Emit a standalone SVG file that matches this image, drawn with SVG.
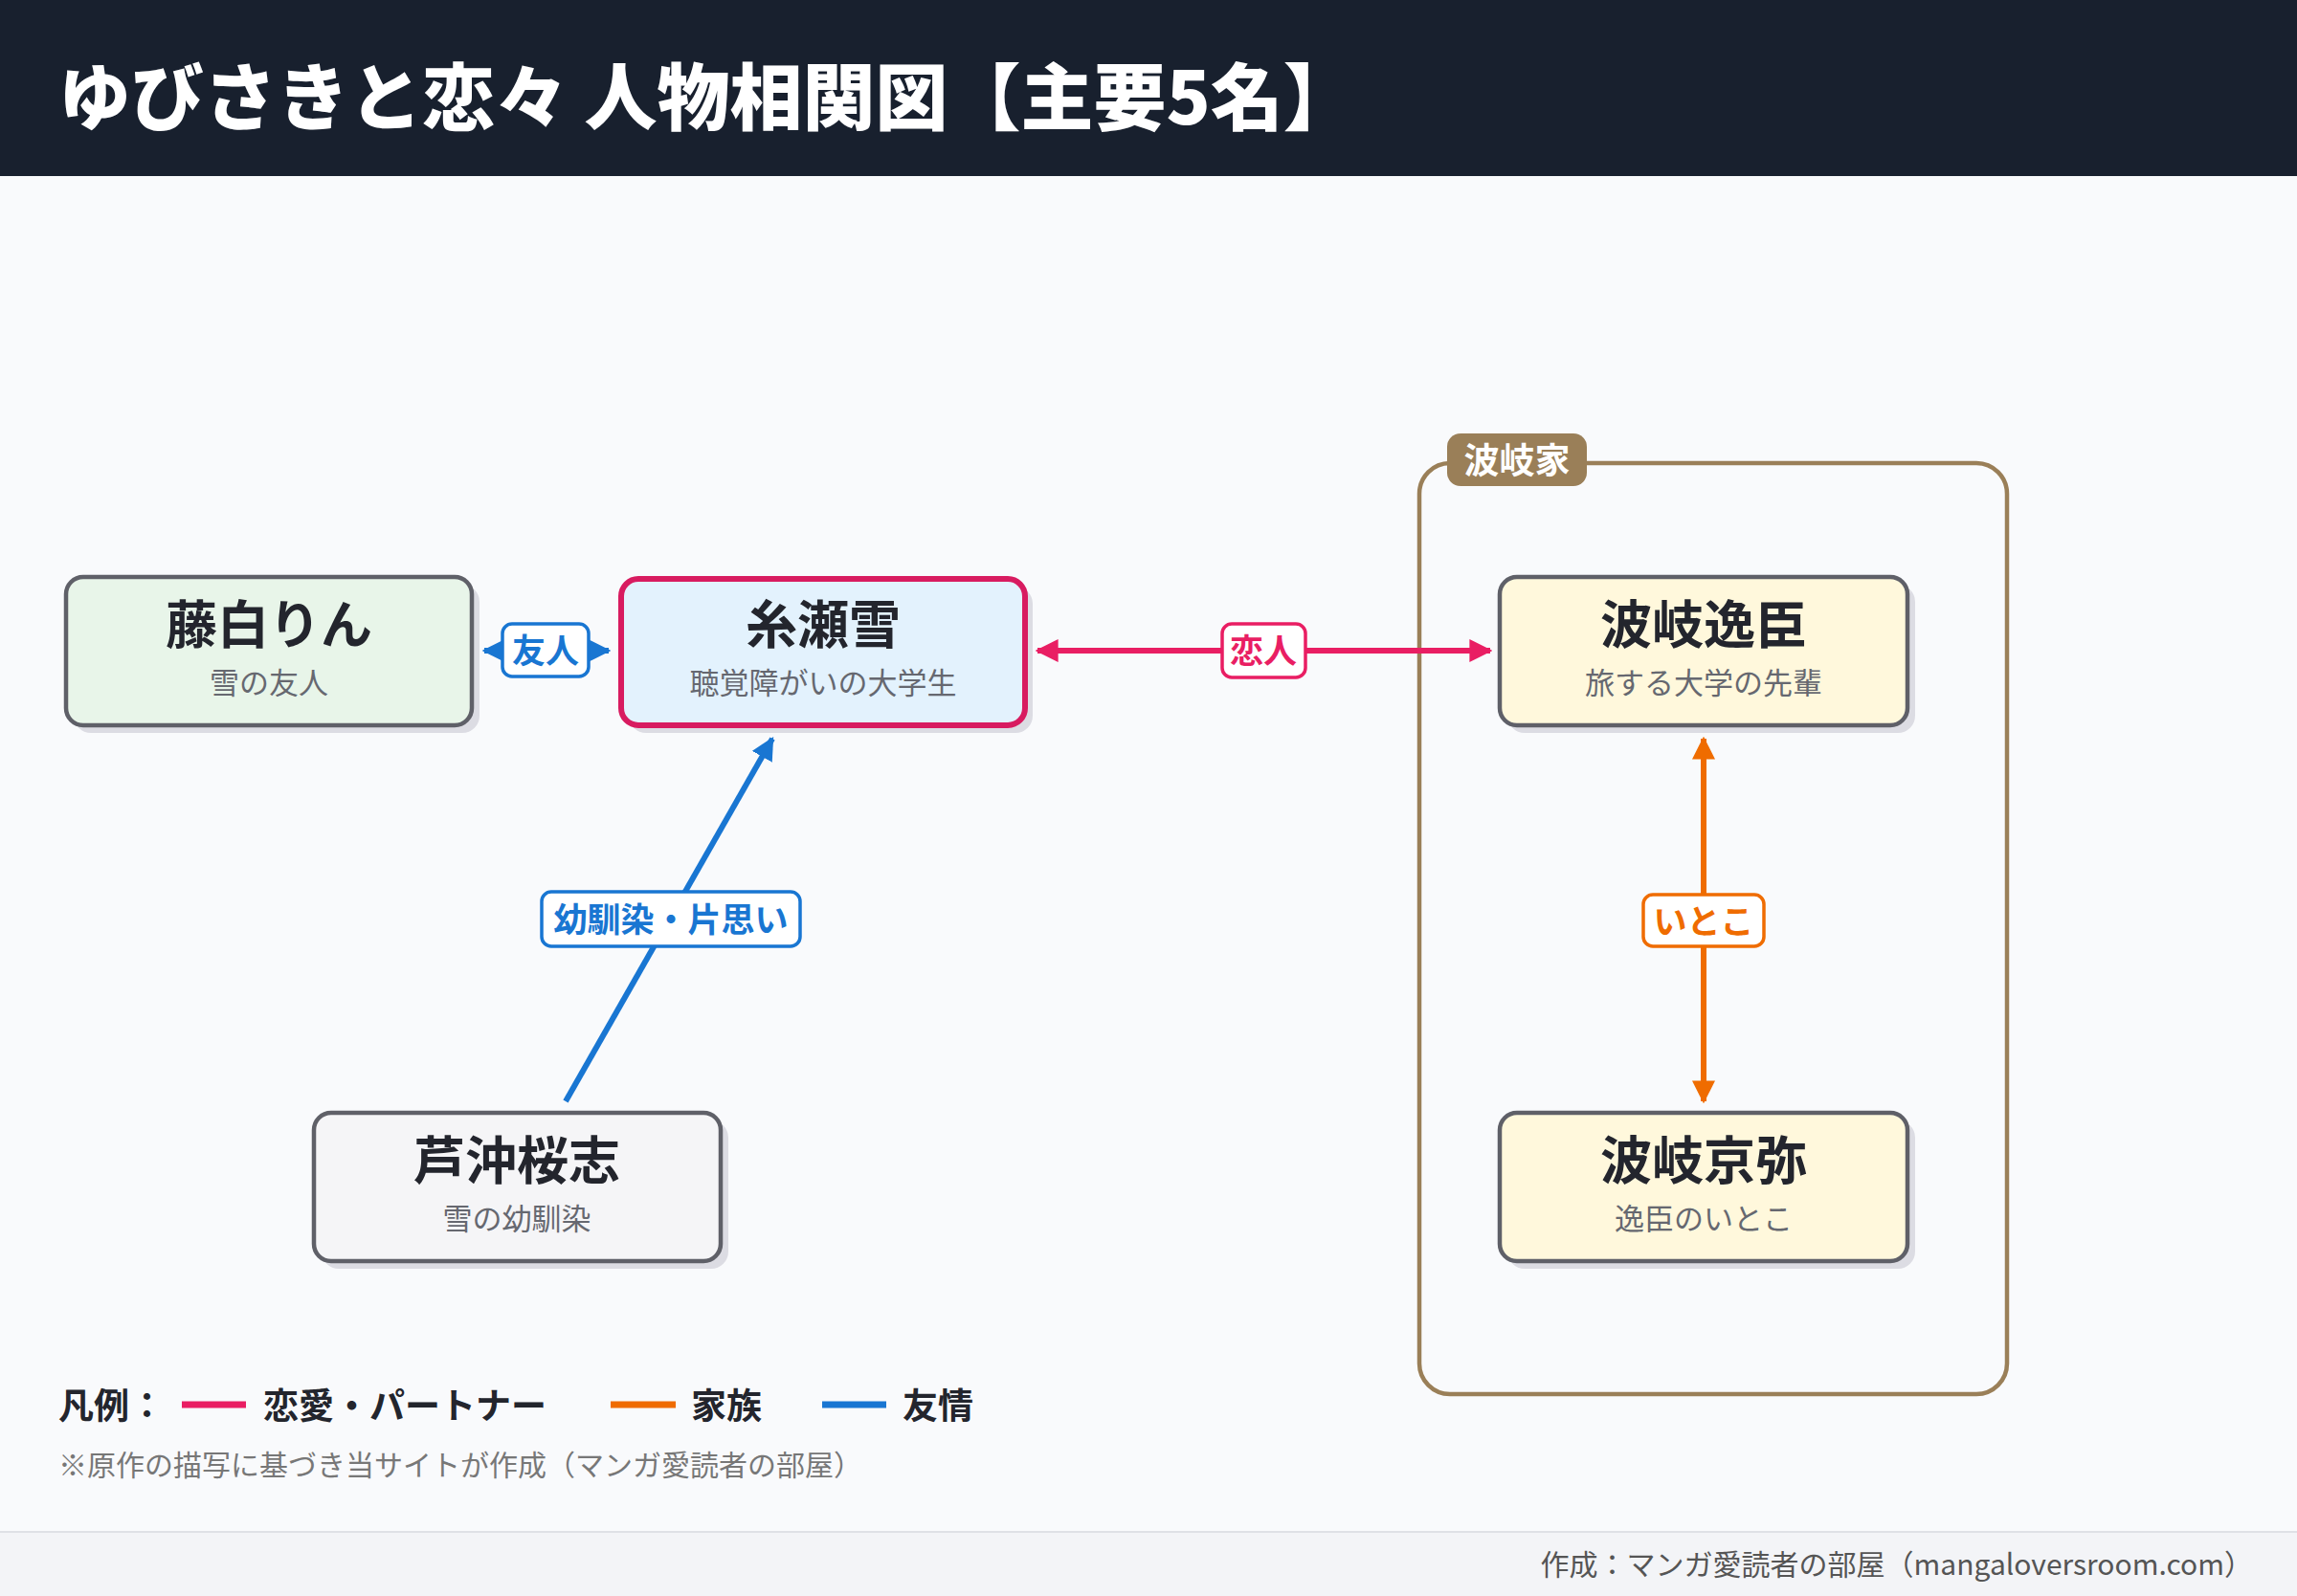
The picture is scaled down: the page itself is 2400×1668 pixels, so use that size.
<svg xmlns="http://www.w3.org/2000/svg" width="2400" height="1668" viewBox="0 0 2400 1668">
<defs>
<style>
text{font-family:"Noto Sans CJK JP","Noto Sans",sans-serif}
.nm{font-size:54px;font-weight:700;fill:#23252d;text-anchor:middle}
.sb{font-size:31px;fill:#666870;text-anchor:middle}
.nd{stroke:#5f6068;stroke-width:4.5}
.sh{fill:#dcdce3}
.lb{fill:#fff;stroke-width:3.5}
.lt{font-size:35px;font-weight:700;text-anchor:middle}
.lg{font-size:37px;font-weight:700;fill:#23252d}
</style>
<marker id="ab" viewBox="0 0 10 10" refX="9" refY="5" markerWidth="4" markerHeight="4" orient="auto-start-reverse"><path d="M0,0L10,5L0,10z" fill="#1976d2"/></marker>
<marker id="ap" viewBox="0 0 10 10" refX="9" refY="5" markerWidth="4" markerHeight="4" orient="auto-start-reverse"><path d="M0,0L10,5L0,10z" fill="#e91e63"/></marker>
<marker id="ao" viewBox="0 0 10 10" refX="9" refY="5" markerWidth="4" markerHeight="4" orient="auto-start-reverse"><path d="M0,0L10,5L0,10z" fill="#ef6c00"/></marker>
</defs>
<rect width="2400" height="1668" fill="#f9fafc"/>
<rect width="2400" height="184" fill="#18202e"/>
<text x="61" y="130" font-size="76" font-weight="900" fill="#fff">ゆびさきと恋々 人物相関図【主要5名】</text>

<g id="group-haki">
<rect x="1483" y="484" width="614" height="973" rx="32" fill="none" stroke="#9a7f58" stroke-width="4.5"/>
<rect x="1512" y="453" width="146" height="55" rx="14" fill="#9a7f58"/>
<text x="1585" y="495" font-size="37" font-weight="700" fill="#fff" text-anchor="middle">波岐家</text>
</g>

<g id="connectors">
<line x1="506" y1="680" x2="636" y2="680" stroke="#1976d2" stroke-width="6" marker-start="url(#ab)" marker-end="url(#ab)"/>
<rect class="lb" x="525" y="652" width="90" height="55" rx="10" stroke="#1976d2"/>
<text class="lt" x="570" y="693" fill="#1976d2">友人</text>
<line x1="1084" y1="680" x2="1557" y2="680" stroke="#e91e63" stroke-width="6" marker-start="url(#ap)" marker-end="url(#ap)"/>
<rect class="lb" x="1277" y="652" width="87" height="56" rx="10" stroke="#e91e63"/>
<text class="lt" x="1320" y="693" fill="#e91e63">恋人</text>
<line x1="591" y1="1151" x2="807" y2="772" stroke="#1976d2" stroke-width="6" marker-end="url(#ab)"/>
<rect class="lb" x="566" y="932" width="270" height="57" rx="10" stroke="#1976d2"/>
<text class="lt" x="701" y="974" fill="#1976d2">幼馴染・片思い</text>
<line x1="1780" y1="772" x2="1780" y2="1151" stroke="#ef6c00" stroke-width="6" marker-start="url(#ao)" marker-end="url(#ao)"/>
<rect class="lb" x="1717" y="935" width="126" height="54" rx="10" stroke="#ef6c00"/>
<text class="lt" x="1780" y="976" fill="#ef6c00">いとこ</text>
</g>

<g id="node-rin">
<rect class="sh" x="77" y="611" width="424" height="155" rx="18"/>
<rect class="nd" x="69" y="603" width="424" height="155" rx="18" fill="#e8f5e9"/>
<text class="nm" x="281" y="673">藤白りん</text>
<text class="sb" x="281" y="725">雪の友人</text>
</g>
<g id="node-yuki">
<rect class="sh" x="657" y="613" width="422" height="153" rx="18"/>
<rect x="649" y="605" width="422" height="153" rx="18" fill="#e3f2fd" stroke="#d81b60" stroke-width="6"/>
<text class="nm" x="860" y="673">糸瀬雪</text>
<text class="sb" x="860" y="725">聴覚障がいの大学生</text>
</g>
<g id="node-itsuomi">
<rect class="sh" x="1575" y="611" width="426" height="155" rx="18"/>
<rect class="nd" x="1567" y="603" width="426" height="155" rx="18" fill="#fff8dc"/>
<text class="nm" x="1780" y="673">波岐逸臣</text>
<text class="sb" x="1780" y="725">旅する大学の先輩</text>
</g>
<g id="node-kyoya">
<rect class="sh" x="1575" y="1171" width="426" height="155" rx="18"/>
<rect class="nd" x="1567" y="1163" width="426" height="155" rx="18" fill="#fff8dc"/>
<text class="nm" x="1780" y="1233">波岐京弥</text>
<text class="sb" x="1780" y="1285">逸臣のいとこ</text>
</g>
<g id="node-oshi">
<rect class="sh" x="336" y="1171" width="425" height="155" rx="18"/>
<rect class="nd" x="328" y="1163" width="425" height="155" rx="18" fill="#f5f5f7"/>
<text class="nm" x="540" y="1233">芦沖桜志</text>
<text class="sb" x="540" y="1285">雪の幼馴染</text>
</g>

<g id="legend">
<text class="lg" x="61" y="1483">凡例：</text>
<line x1="190" y1="1468" x2="257" y2="1468" stroke="#e91e63" stroke-width="7"/>
<text class="lg" x="275" y="1483">恋愛・パートナー</text>
<line x1="638" y1="1468" x2="706" y2="1468" stroke="#ef6c00" stroke-width="7"/>
<text class="lg" x="722" y="1483">家族</text>
<line x1="859" y1="1468" x2="926" y2="1468" stroke="#1976d2" stroke-width="7"/>
<text class="lg" x="943" y="1483">友情</text>
<text x="61" y="1542" font-size="30" fill="#777">※原作の描写に基づき当サイトが作成（マンガ愛読者の部屋）</text>
</g>
<rect x="0" y="1601" width="2400" height="67" fill="#f3f4f7"/>
<line x1="0" y1="1601" x2="2400" y2="1601" stroke="#dfe1e6" stroke-width="2"/>
<text x="2354" y="1646" font-size="30" fill="#555" text-anchor="end">作成：マンガ愛読者の部屋（mangaloversroom.com）</text>
</svg>
